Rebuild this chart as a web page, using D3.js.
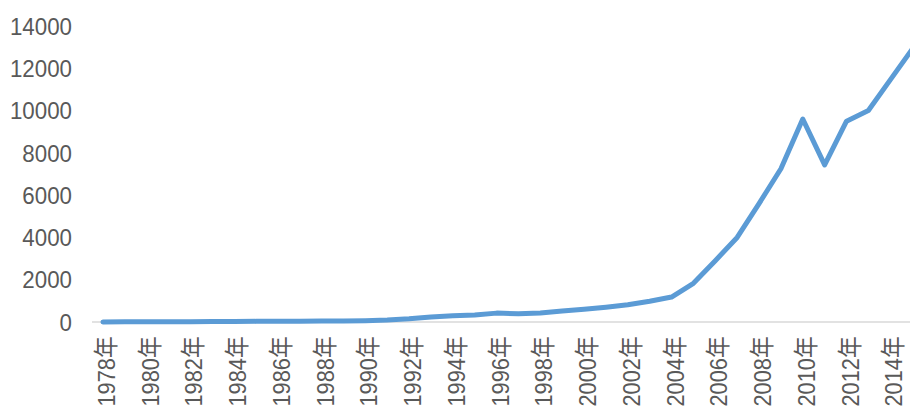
<!DOCTYPE html>
<html><head><meta charset="utf-8">
<script src="https://cdn.jsdelivr.net/npm/d3@7/dist/d3.min.js"></script>
<style>
html,body{margin:0;padding:0;background:#fff;overflow:hidden;}
text{font-family:"Liberation Sans",Arial,"Noto Sans CJK SC",sans-serif;fill:#595959;}
</style></head>
<body>
<svg id="chart" width="910" height="410"></svg>
<script>
const years = d3.range(1978, 2016).map(String);
const values = [5, 8, 10, 12, 15, 18, 20, 30, 35, 40, 50, 50, 60, 90, 150, 240, 290, 330, 420, 390, 430, 520, 600, 700, 820, 980, 1180, 1830, 2900, 4000, 5600, 7250, 9600, 7430, 9500, 10000, 11450, 12900];
const yTicks = [0, 2000, 4000, 6000, 8000, 10000, 12000, 14000];
const labelYears = years.filter((y, i) => i % 2 === 0);

const svg = d3.select("#chart");
const x = d3.scaleBand().domain(years).range([92, 92 + 38 * 21.87]).padding(0);
const y = d3.scaleLinear().domain([0, 14000]).range([322, 26]);
const cx = d => x(d) + x.bandwidth() / 2;

// y axis labels
const yAxis = svg.append("g").attr("transform", "translate(72,0)")
  .call(d3.axisLeft(y).tickValues(yTicks).tickSize(0).tickPadding(0).tickFormat(d3.format("d")));
yAxis.select(".domain").remove();
yAxis.selectAll("text").attr("font-size", 23.5).attr("fill", "#595959")
  .attr("x", 0).attr("dy", "0.35em").attr("transform", "scale(0.95,1)");

// x axis baseline
svg.append("line").attr("x1", 92).attr("x2", 910).attr("y1", y(0)).attr("y2", y(0))
  .attr("stroke", "#d9d9d9").attr("stroke-width", 1.5);

// x labels
const xAxis = svg.append("g").attr("transform", `translate(0,${y(0)})`)
  .call(d3.axisBottom(x).tickValues(labelYears).tickSize(0).tickFormat(d => d + "年"));
xAxis.select(".domain").remove();
xAxis.selectAll("text")
  .attr("font-size", 24.5).attr("fill", "#595959")
  .attr("text-anchor", "end")
  .attr("transform", "rotate(-90) scale(0.89,1)")
  .attr("x", -16).attr("y", 3.5).attr("dy", "0.35em");

// line
const line = d3.line().x((d, i) => cx(years[i])).y(d => y(d));
svg.append("path").datum(values).attr("d", line)
  .attr("fill", "none").attr("stroke", "#5b9bd5").attr("stroke-width", 5)
  .attr("stroke-linejoin", "round").attr("stroke-linecap", "round");
</script>
</body></html>
